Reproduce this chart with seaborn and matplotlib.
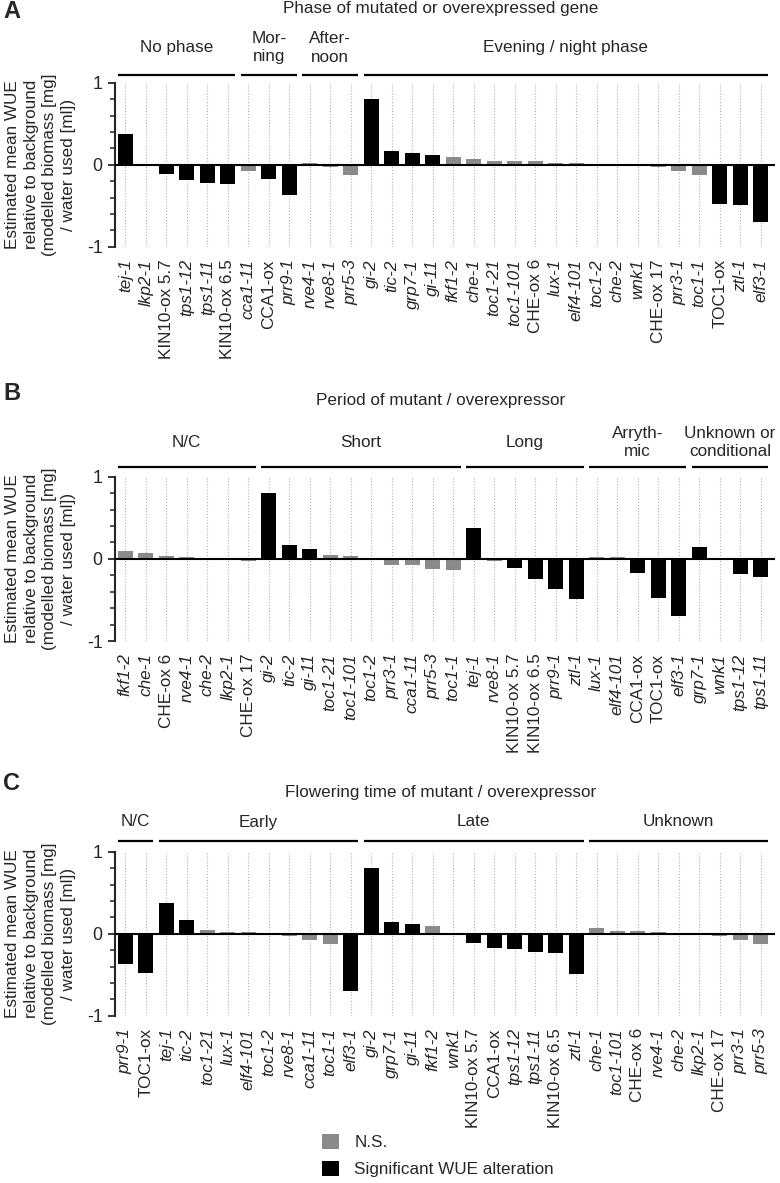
"""
WUE of clock mutants / overexpressors, grouped by phase, period and flowering time.
"""
import matplotlib
matplotlib.use("Agg")
import matplotlib.pyplot as plt
from matplotlib.patches import Patch
from matplotlib.ticker import MultipleLocator
from matplotlib.transforms import blended_transform_factory
import seaborn as sns
import pandas as pd

# Data
genes = ['tej-1', 'lkp2-1', 'KIN10-ox 5.7', 'tps1-12', 'tps1-11', 'KIN10-ox 6.5',
         'cca1-11', 'CCA1-ox', 'prr9-1', 'rve4-1', 'rve8-1', 'prr5-3',
         'gi-2', 'tic-2', 'grp7-1', 'gi-11', 'fkf1-2', 'che-1', 'toc1-21', 'toc1-101',
         'CHE-ox 6', 'lux-1', 'elf4-101', 'toc1-2', 'che-2', 'wnk1', 'CHE-ox 17',
         'prr3-1', 'toc1-1', 'TOC1-ox', 'ztl-1', 'elf3-1']
wue = [0.38, -0.01, -0.11, -0.19, -0.22, -0.24,
       -0.08, -0.17, -0.37, 0.02, -0.03, -0.12,
       0.80, 0.17, 0.14, 0.12, 0.10, 0.07, 0.05, 0.04,
       0.04, 0.02, 0.02, 0.006, -0.006, -0.01, -0.03,
       -0.08, -0.13, -0.48, -0.49, -0.70]
significant = [True, False, True, True, True, True,
               False, True, True, False, False, False,
               True, True, True, True, False, False, False, False,
               False, False, False, False, False, False, False,
               False, False, True, True, True]

order_a = genes
groups_a = ['No phase', 'Mor-\nning', 'After-\nnoon', 'Evening / night phase']
sizes_a = [6, 3, 3, 20]

order_b = ['fkf1-2', 'che-1', 'CHE-ox 6', 'rve4-1', 'che-2', 'lkp2-1', 'CHE-ox 17',
           'gi-2', 'tic-2', 'gi-11', 'toc1-21', 'toc1-101', 'toc1-2', 'prr3-1', 'cca1-11',
           'prr5-3', 'toc1-1', 'tej-1', 'rve8-1', 'KIN10-ox 5.7', 'KIN10-ox 6.5', 'prr9-1',
           'ztl-1', 'lux-1', 'elf4-101', 'CCA1-ox', 'TOC1-ox', 'elf3-1',
           'grp7-1', 'wnk1', 'tps1-12', 'tps1-11']
groups_b = ['N/C', 'Short', 'Long', 'Arryth-\nmic', 'Unknown or\nconditional']
sizes_b = [7, 10, 6, 5, 4]

order_c = ['prr9-1', 'TOC1-ox', 'tej-1', 'tic-2', 'toc1-21', 'lux-1', 'elf4-101', 'toc1-2',
           'rve8-1', 'cca1-11', 'toc1-1', 'elf3-1', 'gi-2', 'grp7-1', 'gi-11', 'fkf1-2',
           'wnk1', 'KIN10-ox 5.7', 'CCA1-ox', 'tps1-12', 'tps1-11', 'KIN10-ox 6.5', 'ztl-1',
           'che-1', 'toc1-101', 'CHE-ox 6', 'rve4-1', 'che-2', 'lkp2-1', 'CHE-ox 17',
           'prr3-1', 'prr5-3']
groups_c = ['N/C', 'Early', 'Late', 'Unknown']
sizes_c = [2, 10, 11, 9]

titles = ['Phase of mutated or overexpressed gene',
          'Period of mutant / overexpressor',
          'Flowering time of mutant / overexpressor']
letters = ['A', 'B', 'C']

NS_LABEL = 'N.S.'
SIG_LABEL = 'Significant WUE alteration'
palette = {NS_LABEL: '#8a8a8a', SIG_LABEL: '#000000'}

df = pd.DataFrame({'gene': genes, 'wue': wue,
                   'status': [SIG_LABEL if s else NS_LABEL for s in significant]})

# Style
sns.set_style("ticks")
plt.rcParams['font.family'] = ['Liberation Sans', 'DejaVu Sans']
plt.rcParams['axes.unicode_minus'] = False
FS = 12.3

W, H = 780, 1183
fig = plt.figure(figsize=(W / 100, H / 100), dpi=100)

# pixel layout: axis top (+1), axis bottom (-1), bracket offset, group label offset, title y, letter y
panels = [
    (order_a, groups_a, sizes_a, 82.7, 246.7, 8, 35, 9, 12),
    (order_b, groups_b, sizes_b, 476.7, 641.0, 10, 34, 401, 393),
    (order_c, groups_c, sizes_c, 852.0, 1015.7, 11, 30, 792, 784),
]
ax_left, ax_right = 115, 775

for i, (order, groups, sizes, top, bottom, line_off, lab_off, title_y, letter_y) in enumerate(panels):
    ax = fig.add_axes([ax_left / W, 1 - bottom / H, (ax_right - ax_left) / W, (bottom - top) / H])
    sns.barplot(data=df, x='gene', y='wue', hue='status', order=order,
                hue_order=[NS_LABEL, SIG_LABEL], palette=palette, dodge=False,
                width=0.72, linewidth=0, legend=False, ax=ax)
    ax.set_xlim(-0.5, len(order) - 0.3)
    ax.set_ylim(-1, 1)
    ax.axhline(0, color='black', lw=1.5, zorder=3)
    ax.set_axisbelow(True)
    ax.xaxis.grid(True, linestyle=':', color='#b0b0b0', lw=0.8)

    for side in ['top', 'right', 'bottom']:
        ax.spines[side].set_visible(False)
    ax.spines['left'].set_linewidth(1.5)

    ax.set_yticks([-1, 0, 1])
    ax.set_yticklabels(['-1', '0', '1'], fontsize=FS + 0.5)
    ax.yaxis.set_minor_locator(MultipleLocator(0.2))
    ax.tick_params(axis='y', which='major', length=5, width=1.3, pad=4)
    ax.tick_params(axis='y', which='minor', length=3.5, width=1.1)
    ax.tick_params(axis='x', length=0, pad=9, labelsize=FS)
    ax.set_xlabel('')
    ax.set_ylabel('')
    ax.set_xticks(range(len(order)))
    ax.set_xticklabels(order, rotation=90, fontsize=FS)
    for lbl in ax.get_xticklabels():
        if '-ox' not in lbl.get_text():
            lbl.set_fontstyle('italic')

    # group brackets and labels above the axis
    trans = blended_transform_factory(ax.transData, ax.transAxes)
    ax_h = bottom - top
    start = 0
    for name, n in zip(groups, sizes):
        end = start + n - 1
        ax.plot([start - 0.36, end + 0.36], [1 + line_off / ax_h] * 2, color='black',
                lw=1.6, transform=trans, clip_on=False, solid_capstyle='butt')
        ax.text((start + end) / 2, 1 + lab_off / ax_h, name, transform=trans,
                ha='center', va='center', fontsize=FS, linespacing=1.3)
        start += n

    fig.text(441 / W, 1 - title_y / H, titles[i], ha='center', va='center', fontsize=FS)
    fig.text(3 / W, 1 - letter_y / H, letters[i], ha='left', va='center',
             fontsize=17, fontweight='bold')
    fig.text(40.5 / W, 1 - (top + bottom) / 2 / H,
             'Estimated mean WUE\nrelative to background\n(modelled biomass [mg]\n/ water used [ml])',
             rotation=90, ha='center', va='center', multialignment='center',
             fontsize=FS, linespacing=1.3)

handles = [Patch(facecolor=palette[NS_LABEL], edgecolor='none'),
           Patch(facecolor=palette[SIG_LABEL], edgecolor='none')]
fig.legend(handles, [NS_LABEL, SIG_LABEL], loc='upper left',
           bbox_to_anchor=(322 / W, 1 - 1134 / H), frameon=False, fontsize=FS,
           handlelength=1.0, handleheight=1.0, handletextpad=0.9,
           labelspacing=0.6, borderpad=0, borderaxespad=0)

fig.savefig('out.png', dpi=100)
